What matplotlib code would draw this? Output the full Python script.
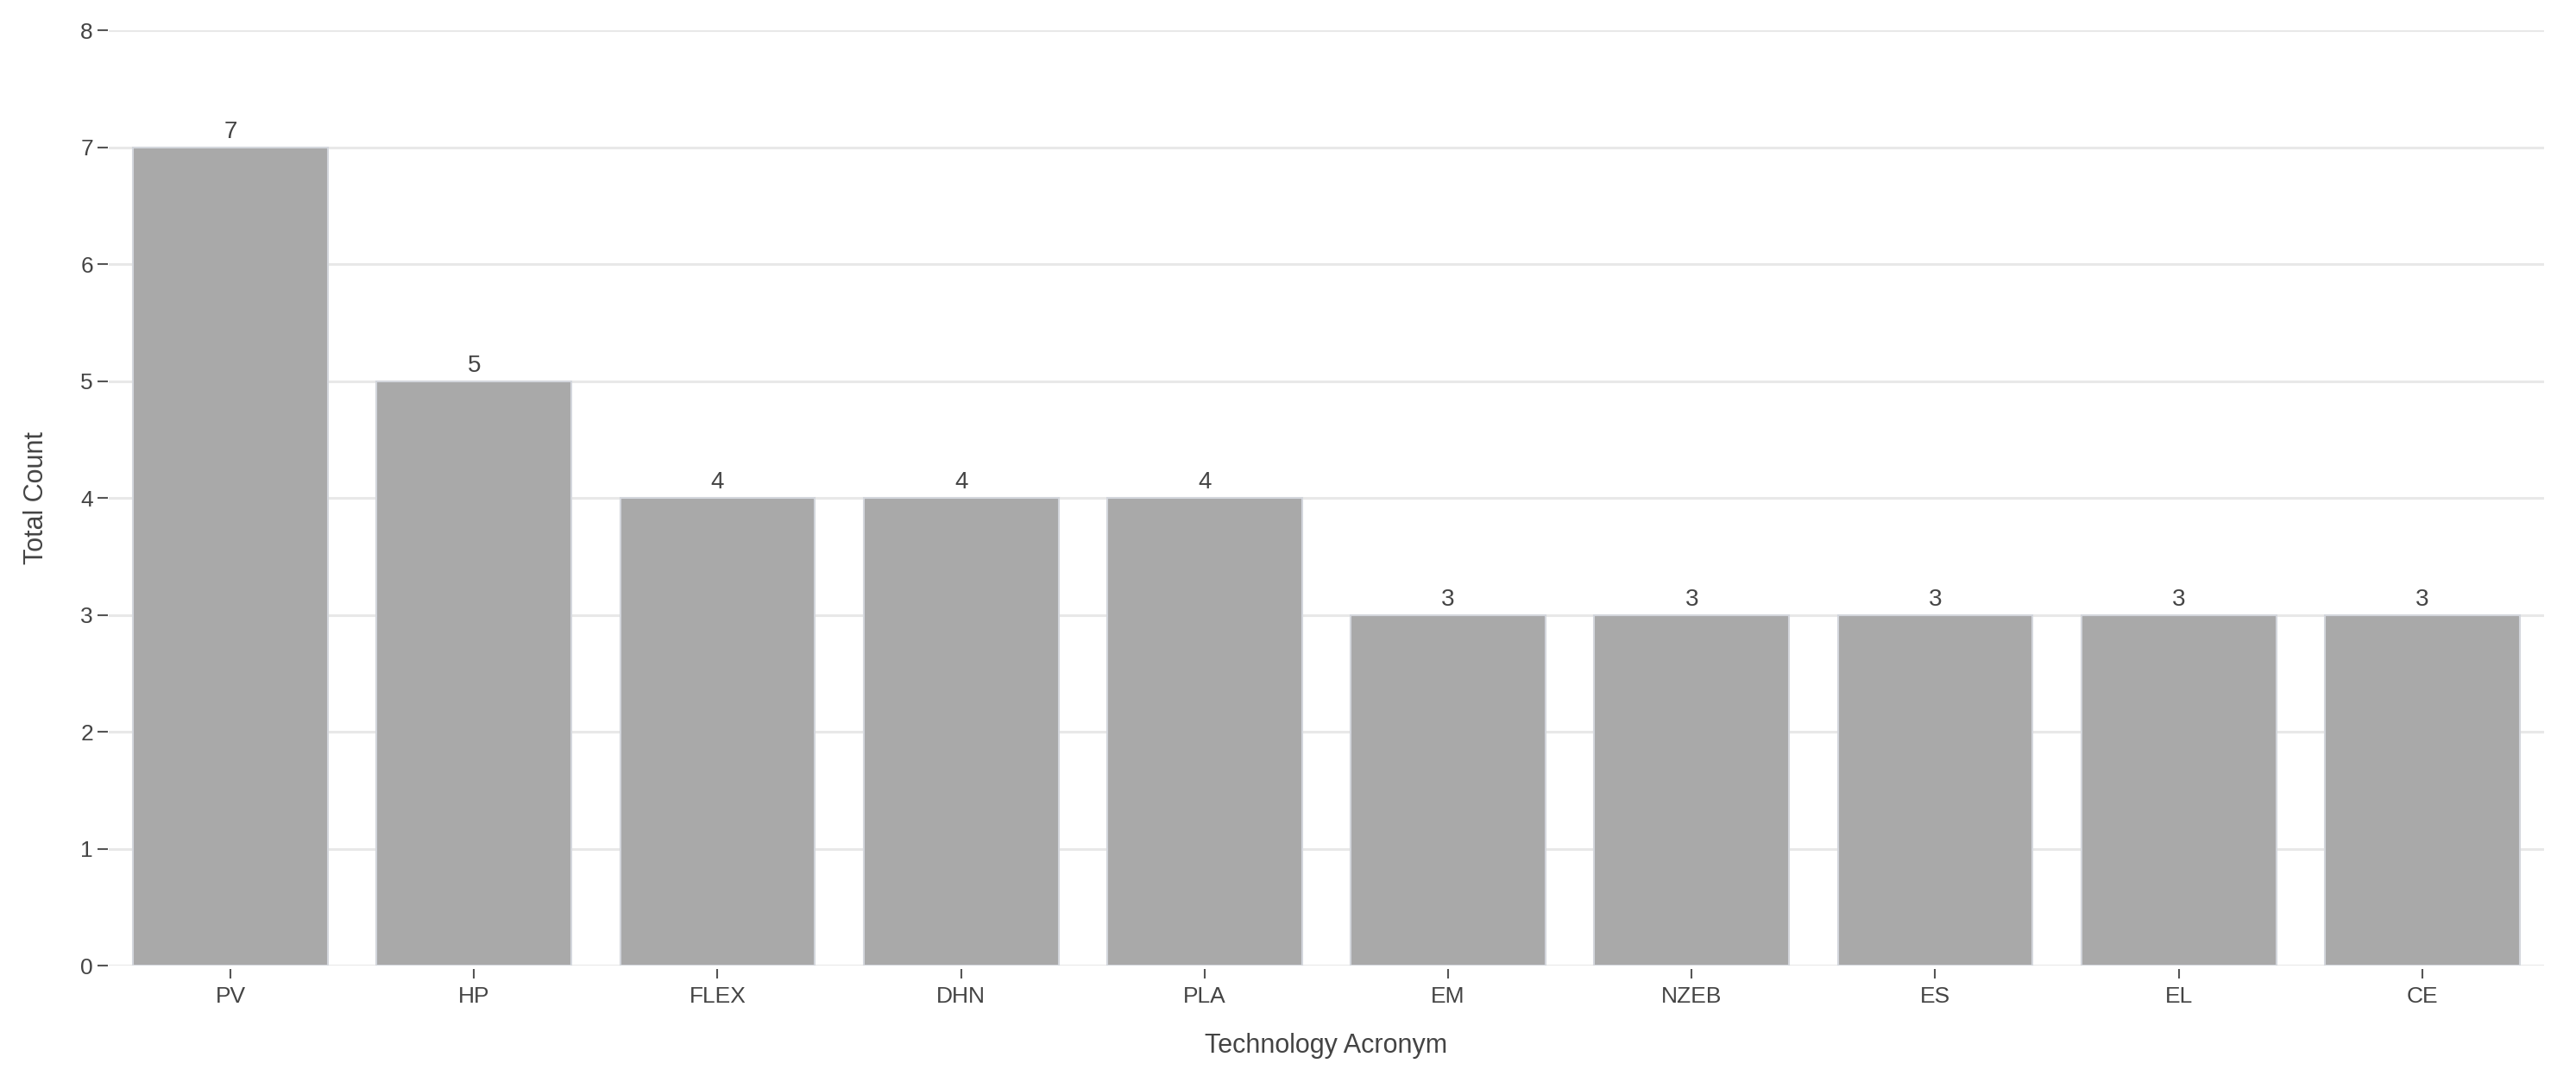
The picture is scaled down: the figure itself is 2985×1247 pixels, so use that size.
import matplotlib
matplotlib.use('Agg')
import matplotlib.pyplot as plt
import numpy as np

plt.rcParams['font.family'] = ['Liberation Sans', 'DejaVu Sans']

# data
acronyms = ['PV', 'HP', 'FLEX', 'DHN', 'PLA', 'EM', 'NZEB', 'ES', 'EL', 'CE']
counts = [7, 5, 4, 4, 4, 3, 3, 3, 3, 3]
y_ticks = [0, 1, 2, 3, 4, 5, 6, 7, 8]

text_col = '#444444'

fig = plt.figure(figsize=(29.85, 12.47), dpi=100)
ax = fig.add_axes([0.0422, 0.1026, 0.9454, 0.8693])

x = np.arange(len(acronyms))
bars = ax.bar(x, counts, width=0.8, color='#a9a9a9', edgecolor='#d3d6dc',
              linewidth=1.5, zorder=3)

for b, v in zip(bars, counts):
    ax.annotate(str(v), (b.get_x() + b.get_width() / 2, v),
                xytext=(0, 3.5), textcoords='offset points',
                ha='center', va='bottom', fontsize=20, color=text_col)

ax.set_xlim(-0.5, len(acronyms) - 0.5)
ax.set_ylim(0, 8)
ax.set_xticks(x)
ax.set_xticklabels(acronyms)
ax.set_yticks(y_ticks)

ax.yaxis.grid(True, color='#e8e8e8', linewidth=2.2, zorder=0)
ax.set_axisbelow(True)

for s in ['top', 'right', 'left', 'bottom']:
    ax.spines[s].set_visible(False)
ax.spines['bottom'].set_position(('outward', 3))
ax.spines['left'].set_position(('outward', 1))

ax.tick_params(axis='x', length=8, width=1.5, color='#555555', pad=6,
               labelsize=19, labelcolor=text_col)
ax.tick_params(axis='y', length=8.5, width=1.5, color='#555555', pad=3.5,
               labelsize=19, labelcolor=text_col)

ax.set_xlabel('Technology Acronym', fontsize=22, color=text_col, labelpad=22)
ax.set_ylabel('Total Count', fontsize=22, color=text_col, labelpad=26)

fig.savefig('out.png', dpi=100)
